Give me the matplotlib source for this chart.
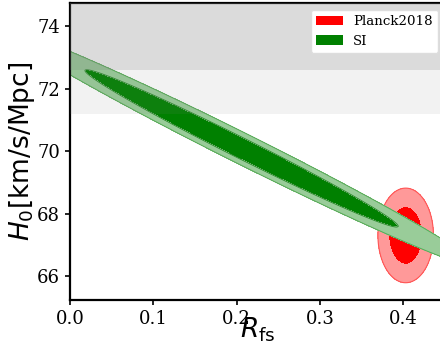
import numpy as np
import matplotlib
matplotlib.use("Agg")
from matplotlib import pyplot as plt
from matplotlib.patches import Patch

# SI constraint: mean, slope of the degeneracy line, spread along R_fs and in H0
si_mean = [0.206, 70.09]
si_slope = -13.27
si_sigma = [0.124, 0.24]

# Planck 2018: mean and sigma in (R_fs, H0)
planck_mean = [0.403, 67.30]
planck_sigma = [0.0134, 0.61]

# SH0ES band (H0 = 74.03 +- 1.42)
shoes = [74.03, 1.42]

labels = ["Planck2018", "SI"]

planck_levels = [0, 2.30, 6.18]
si_levels = [0, 2.30, 5.2]

plt.rcParams['font.family'] = 'DejaVu Serif'
plt.rcParams['mathtext.fontset'] = 'dejavusans'

fig = plt.figure(figsize=(4.4, 3.45), dpi=100)
ax = fig.add_axes([0.159, 0.1304, 0.852, 0.861])

x = np.linspace(-0.3, 0.8, 700)
y = np.linspace(62, 78, 700)
X, Y = np.meshgrid(x, y)

# Planck
cp = ((X - planck_mean[0]) / planck_sigma[0])**2 + ((Y - planck_mean[1]) / planck_sigma[1])**2
ax.contourf(X, Y, cp, levels=planck_levels, colors=['#ff0000', '#ff9999'], zorder=1)
ax.contour(X, Y, cp, levels=[planck_levels[2]], colors=['#ff5555'], linewidths=0.8, zorder=1)

# SI
u = (X - si_mean[0]) / si_sigma[0]
v = (Y - (si_mean[1] + si_slope * (X - si_mean[0]))) / si_sigma[1]
cs = u**2 + v**2
ax.contourf(X, Y, cs, levels=si_levels, colors=['#008000', '#99cc99'], zorder=2)
ax.contour(X, Y, cs, levels=si_levels[1:], colors=['#2e8b2e', '#55aa55'], linewidths=0.7, zorder=2)

# SH0ES bands
ax.axhspan(shoes[0] - 2 * shoes[1], shoes[0] + 2 * shoes[1], color='gray', alpha=0.1, lw=0, zorder=3)
ax.axhspan(shoes[0] - shoes[1], shoes[0] + shoes[1], color='gray', alpha=0.2, lw=0, zorder=3)

ax.set_xlim(0, 0.45)
ax.set_ylim(65.23, 74.75)
ax.set_xticks([0.0, 0.1, 0.2, 0.3, 0.4])
ax.set_yticks([66, 68, 70, 72, 74])
ax.tick_params(labelsize=13, width=1.2, length=3.5)
for s in ax.spines.values():
    s.set_linewidth(1.6)

ax.set_xlabel(r'$R_{\rm fs}$', fontsize=19, family='DejaVu Sans', labelpad=-9)
ax.set_ylabel(r'$H_0$[km/s/Mpc]', fontsize=19, family='DejaVu Sans', labelpad=0)

handles = [Patch(facecolor='red'), Patch(facecolor='green')]
ax.legend(handles, labels, loc='upper right', fontsize=9.6, framealpha=1, edgecolor='#dddddd')

fig.savefig("out.png", dpi=100)
